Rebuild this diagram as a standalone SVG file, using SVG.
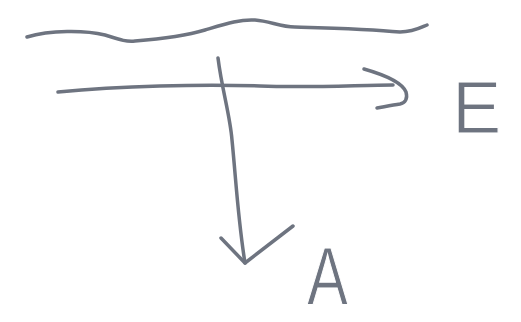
<svg xmlns="http://www.w3.org/2000/svg" width="521" height="322" viewBox="0 0 521 322">
<style>
.s{fill:none;stroke:#6e7480;stroke-width:3.5;stroke-linecap:round;stroke-linejoin:round}
.t{font-family:"Liberation Sans",Arial,sans-serif;fill:#6e7480;stroke:#ffffff;stroke-width:1.2}
</style>
<rect width="521" height="322" fill="#ffffff"/>
<g id="surface">
<path class="s" d="M27,37 C50,30 85,30 105,35 C118,39 125,42 135,41 C160,39 185,36 205,30 C225,24 240,19 255,20 C270,21 280,27 295,27 C330,28 370,29 400,32 C413,32 420,28 427,25"/>
</g>
<g id="connectors">
<path class="s" d="M58,92 C120,86 200,84 260,86 C310,88 360,85 393,85"/>
<path class="s" d="M364,69 C385,75 402,82 406,92 C408,99 405,103 400,104 C392,105 383,107 377,108"/>
<path class="s" d="M218,58 C222,90 230,115 232,140 C236,180 238,220 245,263"/>
<path class="s" d="M221,238 L245,263 L293,226"/>
</g>
<g id="label-E">
<text class="t" x="452" y="133" font-size="74">E</text>
</g>
<g id="label-A">
<text class="t" x="0" y="0" font-size="82" transform="translate(307,304) scale(0.75,1)">A</text>
</g>
</svg>
